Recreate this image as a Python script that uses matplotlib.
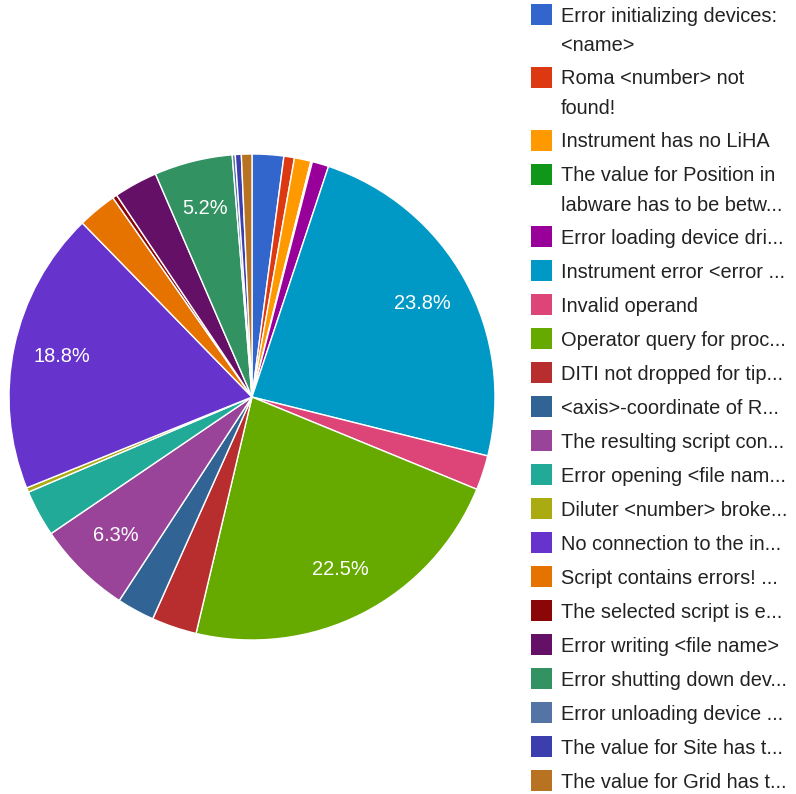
import matplotlib
matplotlib.use("Agg")
import matplotlib.pyplot as plt
from matplotlib.patches import Rectangle

plt.rcParams["font.family"] = ["Liberation Sans", "DejaVu Sans"]

# error messages, in slice order (clockwise from 12 o'clock)
LABELS = [
    "Error initializing devices:\n<name>",
    "Roma <number> not\nfound!",
    "Instrument has no LiHA",
    "The value for Position in\nlabware has to be betw...",
    "Error loading device dri...",
    "Instrument error <error ...",
    "Invalid operand",
    "Operator query for proc...",
    "DITI not dropped for tip...",
    "<axis>-coordinate of R...",
    "The resulting script con...",
    "Error opening <file nam...",
    "Diluter <number> broke...",
    "No connection to the in...",
    "Script contains errors! ...",
    "The selected script is e...",
    "Error writing <file name>",
    "Error shutting down dev...",
    "Error unloading device ...",
    "The value for Site has t...",
    "The value for Grid has t...",
]

# share of occurrences, percent
SHARES = [2.1, 0.7, 1.1, 0.1, 1.1, 23.8, 2.3, 22.5, 3.0, 2.5, 6.3,
          3.1, 0.3, 18.8, 2.6, 0.3, 2.9, 5.2, 0.2, 0.4, 0.7]

COLORS = ["#3366cc", "#dc3912", "#ff9900", "#109618", "#990099", "#0099c6",
          "#dd4477", "#66aa00", "#b82e2e", "#316395", "#994499", "#22aa99",
          "#aaaa11", "#6633cc", "#e67300", "#8b0707", "#651067", "#329262",
          "#5574a6", "#3b3eac", "#b77322"]

W, H = 796, 794
FONT_PT = 14.4

fig = plt.figure(figsize=(W / 100, H / 100), dpi=100)

# pie: centre (252, 397) px, radius 243 px
cx, cy, r = 252, 397, 243
ax = fig.add_axes([(cx - r) / W, (H - cy - r) / H, 2 * r / W, 2 * r / H])


def pct_label(pct):
    return f"{pct:.1f}%" if pct >= 5 else ""


ax.pie(
    SHARES,
    colors=COLORS,
    startangle=90,
    counterclock=False,
    radius=1,
    autopct=pct_label,
    pctdistance=0.8,
    wedgeprops={"edgecolor": "white", "linewidth": 1.0},
    textprops={"color": "white", "fontsize": FONT_PT},
)
ax.set_xlim(-1, 1)
ax.set_ylim(-1, 1)

# legend drawn on a pixel-space overlay
lg = fig.add_axes([0, 0, 1, 1])
lg.set_xlim(0, W)
lg.set_ylim(H, 0)
lg.axis("off")

box = 21
row_pitch = 34.0
line_pitch = 29.5
y = 14.5
for label, color in zip(LABELS, COLORS):
    lg.add_patch(Rectangle((530.5, y - box / 2), box, box, facecolor=color, edgecolor="none"))
    lines = label.split("\n")
    for k, line in enumerate(lines):
        lg.text(561, y + 7.2 + k * line_pitch, line, fontsize=FONT_PT,
                color="#222222", va="baseline", ha="left")
    y += row_pitch + (len(lines) - 1) * (line_pitch - 0.75)

fig.savefig("out.png", dpi=100)
